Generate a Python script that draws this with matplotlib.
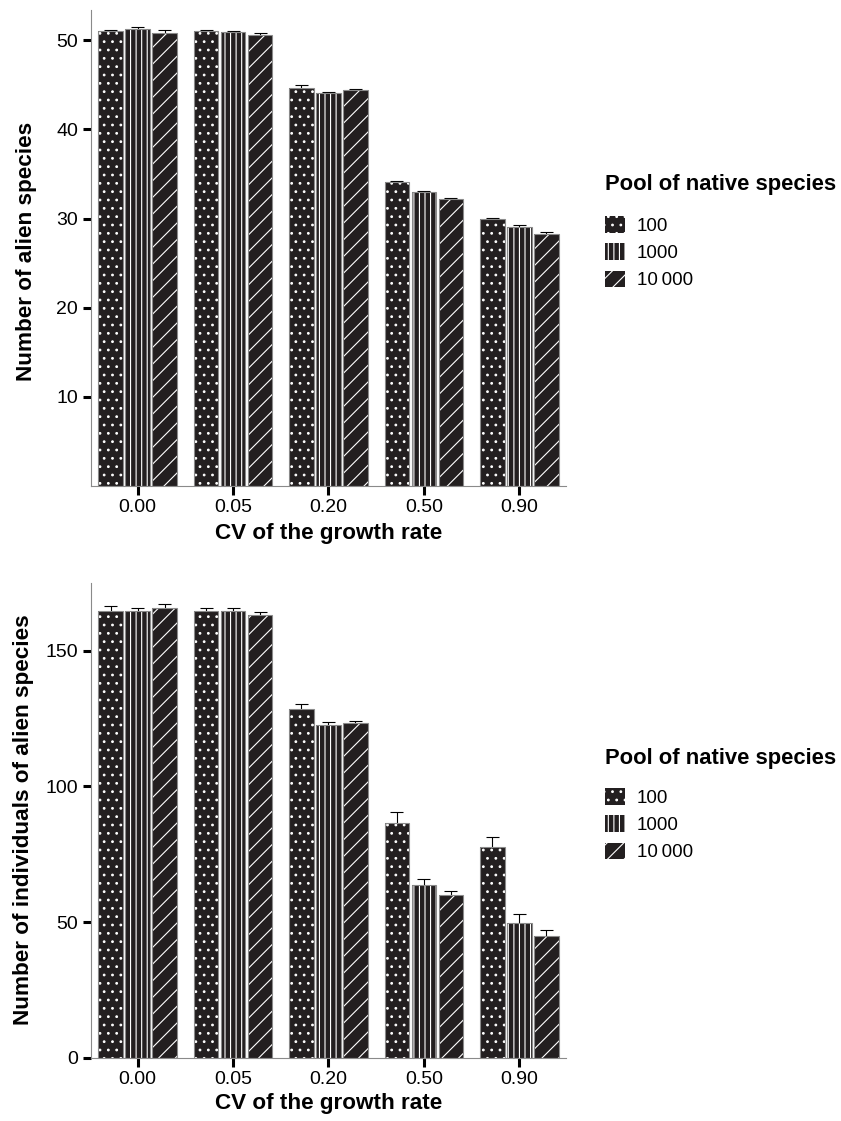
import matplotlib
matplotlib.use('Agg')
import matplotlib.pyplot as plt
from matplotlib.patches import Patch
import numpy as np

plt.rcParams['font.family'] = ['Liberation Sans', 'DejaVu Sans']
plt.rcParams['hatch.linewidth'] = 0.8

# ---------------- data ----------------
cv_labels = ['0.00', '0.05', '0.20', '0.50', '0.90']
pool_labels = ['100', '1000', '10\u2009000']

# panel 1: number of alien species
n_alien_100 = [51.0, 51.0, 44.65, 34.1, 29.9]
n_alien_1000 = [51.3, 50.9, 44.1, 33.0, 29.1]
n_alien_10000 = [50.8, 50.6, 44.4, 32.2, 28.3]
se_alien_100 = [0.15, 0.19, 0.38, 0.15, 0.15]
se_alien_1000 = [0.19, 0.15, 0.15, 0.15, 0.15]
se_alien_10000 = [0.34, 0.26, 0.15, 0.15, 0.15]

# panel 2: number of individuals of alien species
n_ind_100 = [164.8, 164.8, 128.7, 86.7, 77.6]
n_ind_1000 = [164.8, 164.8, 122.8, 63.6, 49.6]
n_ind_10000 = [165.9, 163.1, 123.3, 60.0, 44.9]
se_ind_100 = [1.7, 1.1, 1.8, 3.7, 3.7]
se_ind_1000 = [1.1, 1.1, 1.0, 2.4, 3.2]
se_ind_10000 = [1.2, 1.1, 1.0, 1.6, 2.2]

# ---------------- style ----------------
DARK = '#231f20'
EDGE = '#8a8a8a'
hatches = ['..', '|||', '//']
W = 841
H = 1121
TITLE_FS = 16.2
LEG_TITLE_FS = 15.8

fig = plt.figure(figsize=(W / 100, H / 100), dpi=100)


def px_axes(left, top, right, bottom):
    return fig.add_axes([left / W, 1 - bottom / H, (right - left) / W, (bottom - top) / H])


def draw_panel(ax, means, errs, ylim, yticks):
    x = np.arange(len(cv_labels))
    offsets = [-0.283, 0.0, 0.283]
    w = 0.257
    cap = 0.068
    for k in range(3):
        xs = x + offsets[k]
        m = np.array(means[k])
        e = np.array(errs[k])
        ax.vlines(xs, m, m + e, color='black', linewidth=0.8, zorder=1)
        ax.hlines(m + e, xs - cap, xs + cap, color='black', linewidth=0.8, zorder=1)
        ax.bar(xs, m, width=w, color=DARK, edgecolor='white', hatch=hatches[k],
               linewidth=0, zorder=2)
        ax.bar(xs, m, width=w, fill=False, edgecolor=EDGE, linewidth=0.8, zorder=3)
    ax.set_xlim(-0.493, 4.49)
    ax.set_ylim(*ylim)
    ax.set_xticks(x)
    ax.set_xticklabels(cv_labels)
    ax.set_yticks(yticks)
    ax.set_yticklabels([str(t) for t in yticks])
    for s in ['top', 'right']:
        ax.spines[s].set_visible(False)
    for s in ['left', 'bottom']:
        ax.spines[s].set_color(EDGE)
        ax.spines[s].set_linewidth(0.8)
    ax.tick_params(axis='x', length=6.5, width=2.2, color='black', labelsize=14, pad=3)
    ax.tick_params(axis='y', length=5.5, width=2.2, color='black', labelsize=14, pad=3.5)


ax1 = px_axes(90.7, 10, 566, 486)
draw_panel(ax1, [n_alien_100, n_alien_1000, n_alien_10000],
           [se_alien_100, se_alien_1000, se_alien_10000],
           (0, 53.4), [10, 20, 30, 40, 50])

ax2 = px_axes(90.7, 582.7, 566, 1057.7)
draw_panel(ax2, [n_ind_100, n_ind_1000, n_ind_10000],
           [se_ind_100, se_ind_1000, se_ind_10000],
           (0, 175.1), [0, 50, 100, 150])

# axis titles
fig.text(27 / W, 1 - 251 / H, 'Number of alien species', rotation=90,
         ha='center', va='center', fontsize=TITLE_FS, fontweight='bold')
fig.text(329 / W, 1 - 533 / H, 'CV of the growth rate',
         ha='center', va='center', fontsize=TITLE_FS, fontweight='bold')
fig.text(24 / W, 1 - 820 / H, 'Number of individuals of alien species', rotation=90,
         ha='center', va='center', fontsize=TITLE_FS, fontweight='bold')
fig.text(329 / W, 1 - 1103 / H, 'CV of the growth rate',
         ha='center', va='center', fontsize=TITLE_FS, fontweight='bold')


def add_legend(title_top, keys_top):
    fig.text(605 / W, 1 - title_top / H, 'Pool of native species',
             ha='left', va='top', fontsize=LEG_TITLE_FS, fontweight='bold')
    handles = [Patch(facecolor=DARK, edgecolor='white', hatch=h, linewidth=0)
               for h in hatches]
    fig.legend(handles, pool_labels, loc='upper left',
               bbox_to_anchor=(605 / W, 1 - keys_top / H),
               bbox_transform=fig.transFigure, frameon=False,
               fontsize=13.5, borderpad=0, borderaxespad=0,
               handlelength=1.07, handleheight=1.0, handletextpad=0.62,
               labelspacing=0.45)


add_legend(174, 216)
add_legend(748, 788)

fig.savefig('out.png', dpi=100)
